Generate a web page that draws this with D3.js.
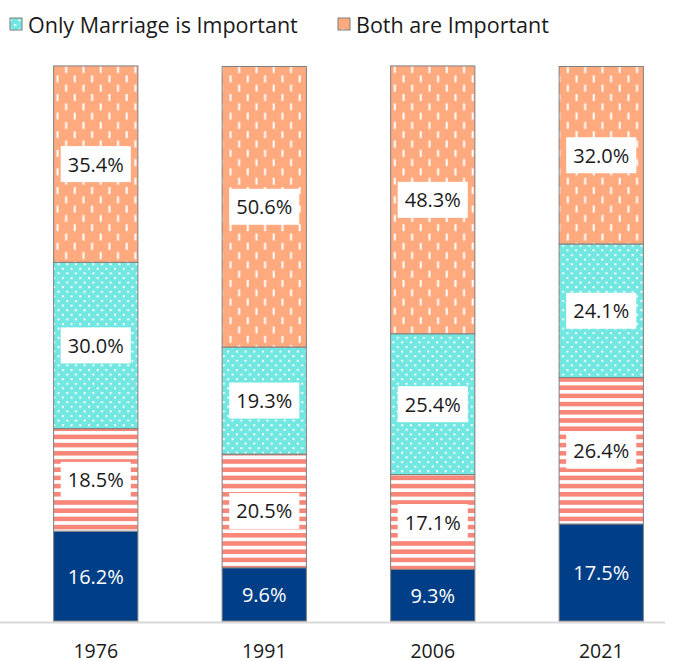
<!DOCTYPE html>
<html>
<head>
<meta charset="utf-8">
<script src="https://cdn.jsdelivr.net/npm/d3@7"></script>
<style>
  body { margin: 0; background: #fff; }
  svg { display: block; font-family: "Open Sans", "Noto Sans", sans-serif; }
</style>
</head>
<body>
<svg id="chart" width="675" height="661"></svg>
<script>
  // values, bottom segment first
  var years = ["1976", "1991", "2006", "2021"];
  var neither     = [16.2, 9.6, 9.3, 17.5];
  var onlyWork    = [18.5, 20.5, 17.1, 26.4];
  var onlyMarriage = [30.0, 19.3, 25.4, 24.1];
  var bothImportant = [35.4, 50.6, 48.3, 32.0];

  var seriesKeys = ["neither", "onlyWork", "onlyMarriage", "both"];
  var legendNames = { onlyMarriage: "Only Marriage is Important", both: "Both are Important" };

  var rows = years.map(function (y, i) {
    return { year: y, neither: neither[i], onlyWork: onlyWork[i],
             onlyMarriage: onlyMarriage[i], both: bothImportant[i] };
  });

  var svg = d3.select("#chart");

  var x = d3.scaleBand().domain(years).range([11.5, 685.5])
    .paddingInner(0.5).paddingOuter(0.25);
  var y = d3.scaleLinear().domain([0, 100]).range([621, 66.5]);

  // fills
  var defs = svg.append("defs");

  var pDash = defs.append("pattern").attr("id", "pDash")
    .attr("patternUnits", "userSpaceOnUse").attr("width", 17.3).attr("height", 18.6)
    .attr("x", 53);
  pDash.append("rect").attr("width", 17.3).attr("height", 18.6).attr("fill", "#ffa97f");
  pDash.append("rect").attr("x", 3.5).attr("y", 1).attr("width", 2).attr("height", 7).attr("fill", "#fff");
  pDash.append("rect").attr("x", 12.15).attr("y", 10.3).attr("width", 2).attr("height", 7).attr("fill", "#fff");

  var pDot = defs.append("pattern").attr("id", "pDot")
    .attr("patternUnits", "userSpaceOnUse").attr("width", 8.7).attr("height", 9.2);
  pDot.append("rect").attr("width", 8.7).attr("height", 9.2).attr("fill", "#72e6e0");
  pDot.append("rect").attr("x", 1).attr("y", 1).attr("width", 2).attr("height", 2).attr("fill", "#fff");
  pDot.append("rect").attr("x", 5.35).attr("y", 5.6).attr("width", 2).attr("height", 2).attr("fill", "#fff");

  var pStripe = defs.append("pattern").attr("id", "pStripe")
    .attr("patternUnits", "userSpaceOnUse").attr("width", 10).attr("height", 8.2);
  pStripe.append("rect").attr("width", 10).attr("height", 8.2).attr("fill", "#fff");
  pStripe.append("rect").attr("y", 0).attr("width", 10).attr("height", 4.6).attr("fill", "#f8877a");

  var fills = { neither: "#003f87", onlyWork: "url(#pStripe)", onlyMarriage: "url(#pDot)", both: "url(#pDash)" };

  // axis baseline
  svg.append("line")
    .attr("x1", 0).attr("x2", 665)
    .attr("y1", y(0) + 1.5).attr("y2", y(0) + 1.5)
    .attr("stroke", "#d9d9d9").attr("stroke-width", 2);

  var stack = d3.stack().keys(seriesKeys);
  var layers = stack(rows);

  var groups = svg.selectAll("g.layer").data(layers).enter().append("g").attr("class", "layer");

  groups.selectAll("rect").data(function (d) { return d.map(function (p) { p.key = d.key; return p; }); })
    .enter().append("rect")
    .attr("x", function (d) { return x(d.data.year); })
    .attr("width", x.bandwidth())
    .attr("y", function (d) { return y(d[1]); })
    .attr("height", function (d) { return y(d[0]) - y(d[1]); })
    .attr("fill", function (d) { return fills[d.key]; })
    .attr("stroke", "#7f7f7f")
    .attr("stroke-width", 1);

  // value labels
  var labels = svg.append("g");
  layers.forEach(function (layer) {
    layer.forEach(function (d) {
      var cx = x(d.data.year) + x.bandwidth() / 2;
      var cy = (y(d[0]) + y(d[1])) / 2;
      var txt = d.data[layer.key].toFixed(1) + "%";
      var g = labels.append("g");
      var t = g.append("text")
        .attr("x", cx).attr("y", cy)
        .attr("text-anchor", "middle")
        .attr("dominant-baseline", "central")
        .attr("font-size", 20)
        .attr("fill", layer.key == "neither" ? "#fff" : "#1a1a1a")
        .text(txt);
      if (layer.key != "neither") {
        var w = t.node().getComputedTextLength();
        g.insert("rect", "text")
          .attr("x", cx - w / 2 - 7).attr("y", cy - 18)
          .attr("width", w + 14).attr("height", 36)
          .attr("fill", "#fff");
      }
    });
  });

  // year labels
  svg.append("g").selectAll("text").data(years).enter().append("text")
    .attr("x", function (d) { return x(d) + x.bandwidth() / 2; })
    .attr("y", 650)
    .attr("text-anchor", "middle")
    .attr("dominant-baseline", "central")
    .attr("font-size", 19.5)
    .attr("fill", "#1a1a1a")
    .text(function (d) { return d; });

  // legend (only the two visible entries)
  var legendItems = [
    { key: "onlyMarriage", x: 10 },
    { key: "both", x: 338 }
  ];
  var legend = svg.append("g");
  legendItems.forEach(function (it) {
    legend.append("rect")
      .attr("x", it.x).attr("y", 18).attr("width", 12).attr("height", 12)
      .attr("fill", fills[it.key]).attr("stroke", "#7f7f7f").attr("stroke-width", 1);
    legend.append("text")
      .attr("x", it.x + 18).attr("y", 24)
      .attr("dominant-baseline", "central")
      .attr("font-size", 21.5)
      .attr("fill", "#1a1a1a")
      .text(legendNames[it.key]);
  });
</script>
</body>
</html>
